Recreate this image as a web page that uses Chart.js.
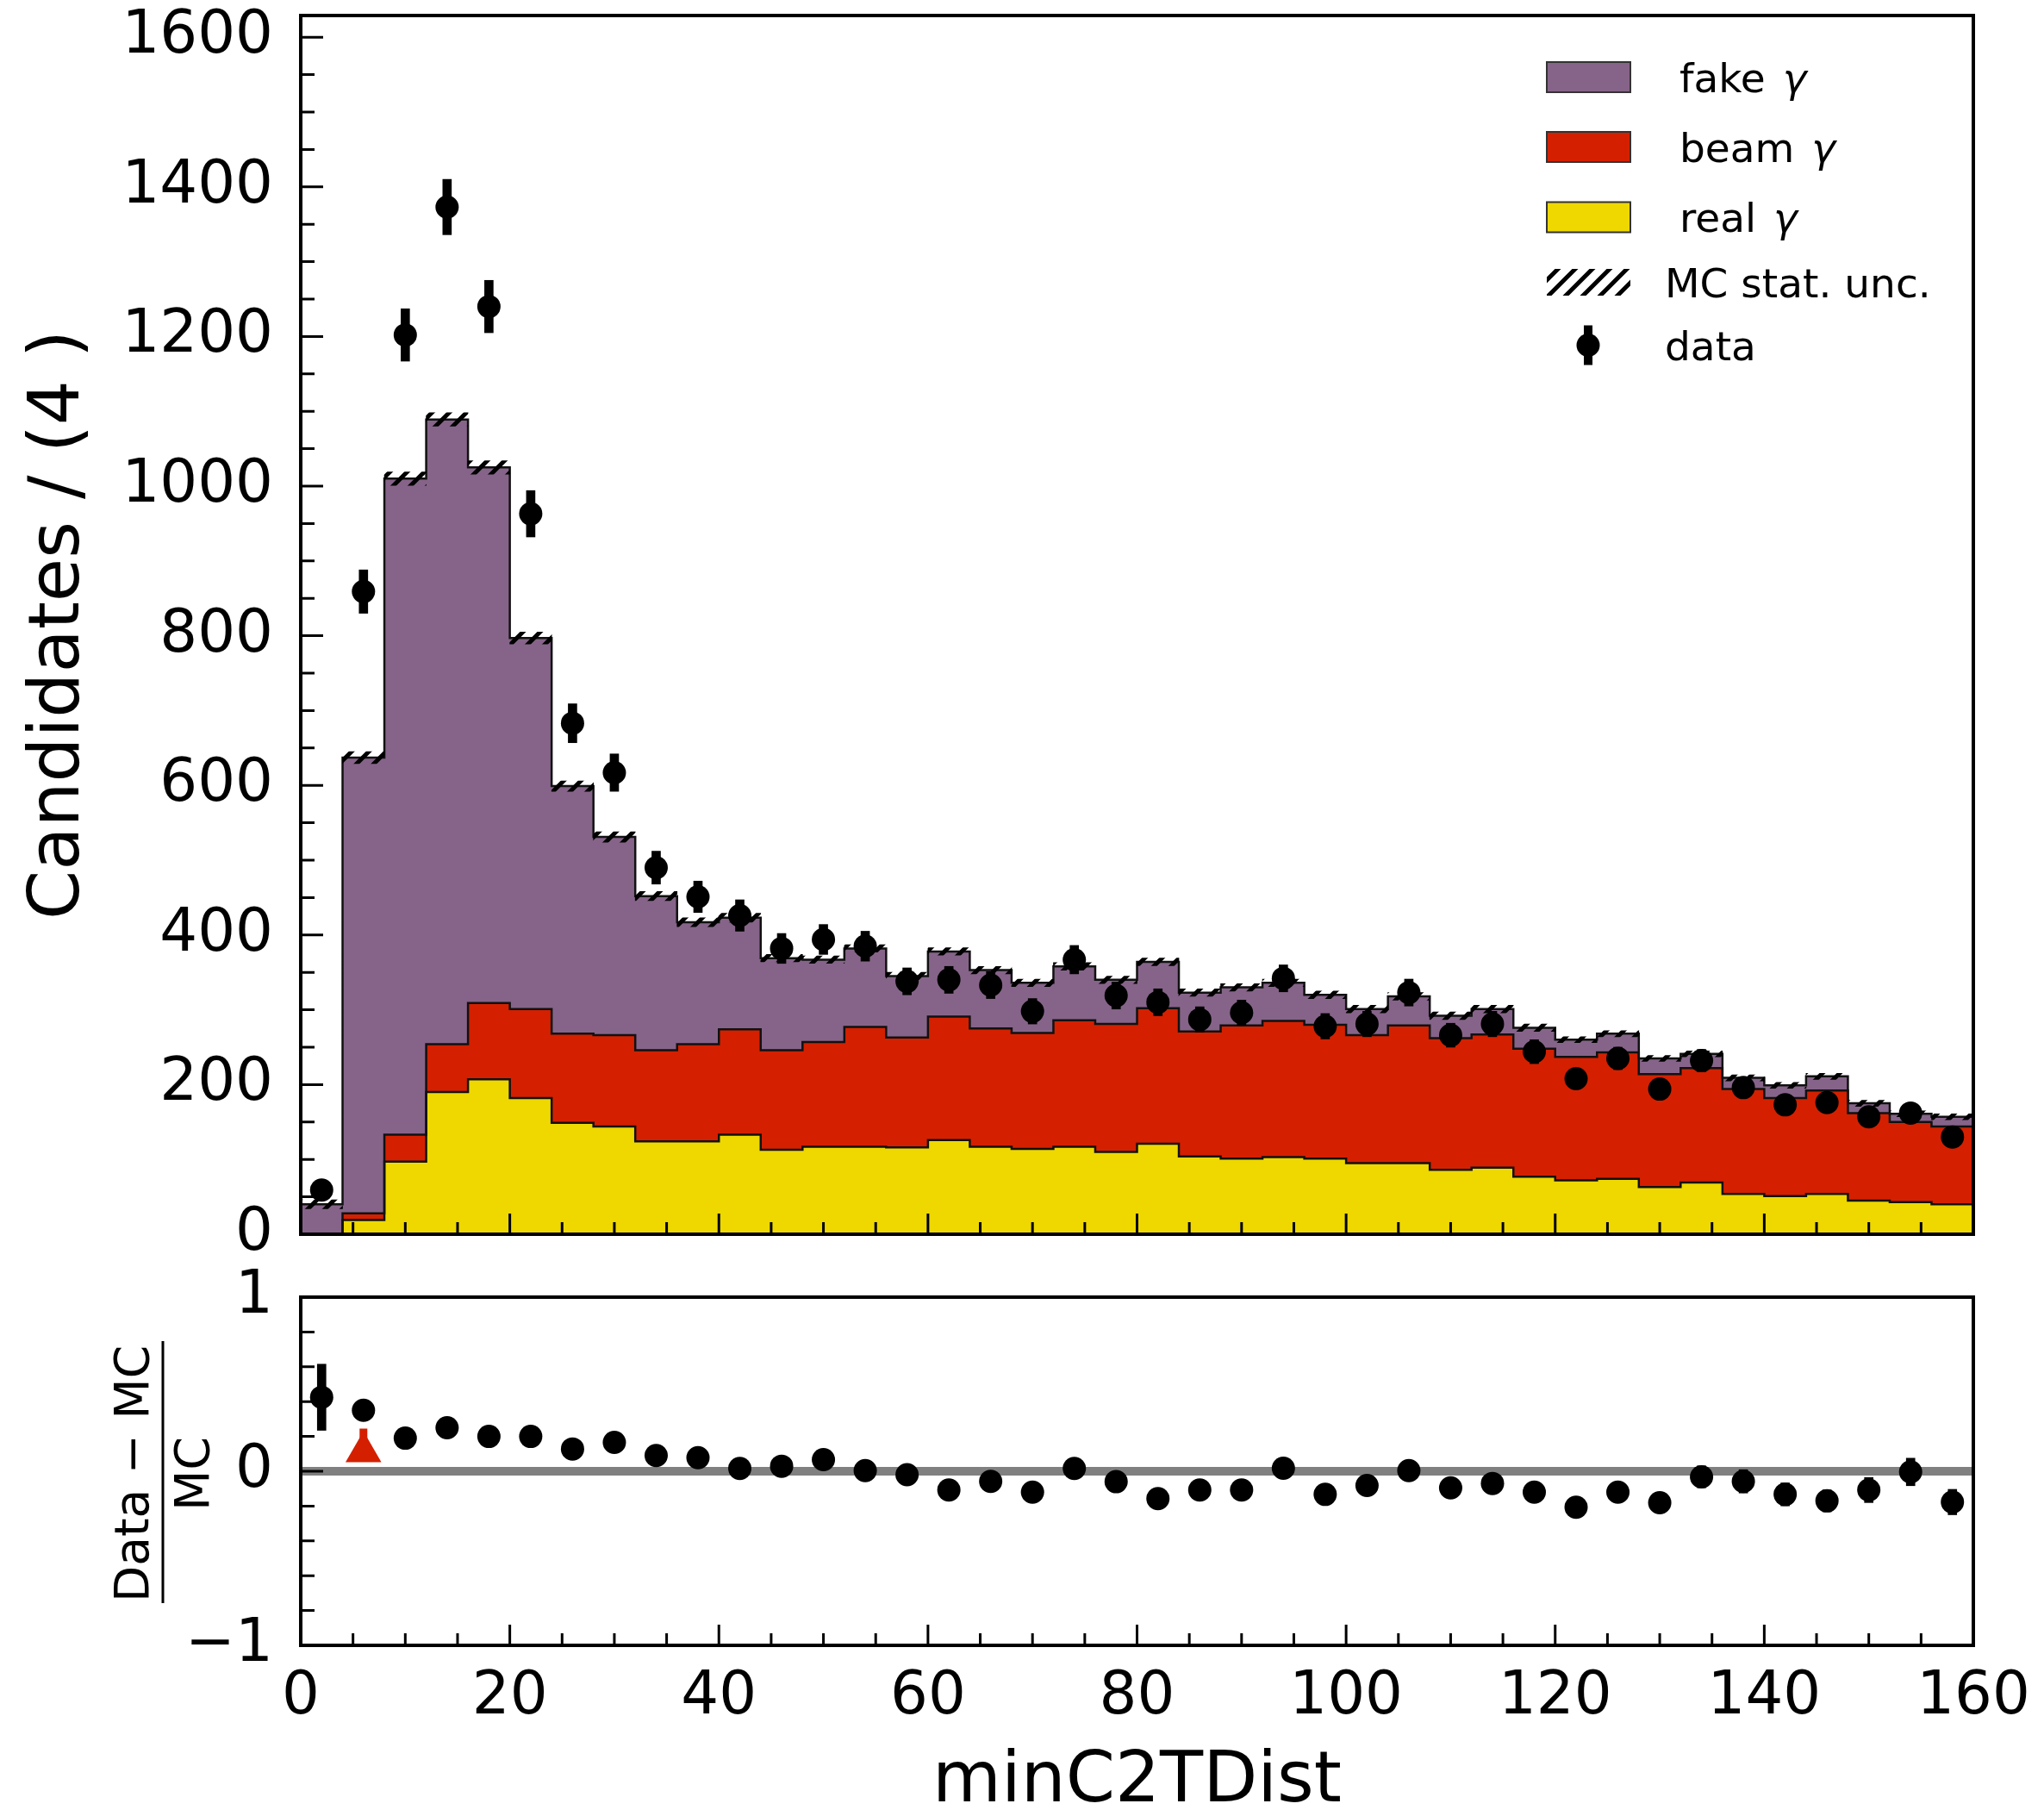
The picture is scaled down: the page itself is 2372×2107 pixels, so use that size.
<!DOCTYPE html>
<html>
<head>
<meta charset="utf-8">
<script src="https://cdn.jsdelivr.net/npm/chart.js@4.4.1/dist/chart.umd.min.js"></script>
<style>
  html, body { margin: 0; padding: 0; background: #fff; }
  #wrap { position: relative; width: 2372px; height: 2107px; }
  canvas { position: absolute; left: 0; top: 0; }
</style>
</head>
<body>
<div id="wrap">
  <canvas id="main" width="2372" height="2107"></canvas>
  <canvas id="ratio" width="2372" height="2107"></canvas>
</div>
<script>
// bins of minC2TDist, width 4
const binEdges = [0, 4, 8, 12, 16, 20, 24, 28, 32, 36, 40, 44, 48, 52, 56, 60, 64, 68, 72, 76, 80,
  84, 88, 92, 96, 100, 104, 108, 112, 116, 120, 124, 128, 132, 136, 140, 144, 148, 152, 156, 160];

// MC components (stacked: real at the bottom, then beam, then fake)
const realGamma = [0, 19, 97, 190, 207, 182, 149, 144, 124, 124, 133, 113, 117, 117, 116, 126, 117, 114, 117, 110,
  121, 104, 101, 103, 101, 95, 95, 86, 89, 77, 72, 74, 63, 69, 54, 51, 54, 45, 43, 40];
const beamGamma = [0, 9, 36, 64, 102, 119, 119, 122, 122, 130, 141, 133, 140, 160, 147, 165, 158, 155, 169, 171,
  181, 167, 178, 182, 179, 171, 184, 176, 178, 171, 165, 169, 151, 153, 140, 131, 138, 117, 107, 104];
const fakeGamma = [40, 609, 877, 835, 716, 496, 331, 265, 206, 163, 149, 123, 110, 105, 82, 87, 78, 67, 72, 59,
  62, 52, 51, 51, 40, 35, 39, 30, 34, 28, 23, 25, 21, 19, 15, 17, 19, 13, 11, 13];
const mcStatUnc = [6, 8, 9, 9, 9, 8, 7, 7, 6, 6, 6, 5, 5, 5, 5, 5, 5, 5, 5, 5,
  5, 5, 5, 5, 5, 5, 5, 5, 5, 5, 4, 4, 4, 4, 4, 4, 4, 4, 4, 4];

// data
const dataCounts = [59, 859, 1202, 1373, 1240, 963, 683, 617, 490, 451, 426, 382, 394, 385, 338, 340, 333, 298, 367, 319,
  310, 287, 296, 342, 278, 281, 323, 266, 281, 244, 208, 235, 194, 232, 196, 173, 176, 157, 162, 130];
const dataErr = [7.7, 29, 35, 37, 35, 31, 26, 25, 22, 21, 21, 20, 20, 20, 18, 18, 18, 17, 19, 18,
  18, 17, 17, 18, 17, 17, 18, 16, 17, 16, 14, 15, 14, 15, 14, 13, 13, 13, 13, 11];

// (Data - MC) / MC
const ratioValues = [0.425, 0.35, 0.19, 0.25, 0.20, 0.20, 0.128, 0.166, 0.09, 0.078, 0.016, 0.029, 0.067, 0.004, -0.02,
  -0.108, -0.058, -0.12, 0.016, -0.06, -0.157, -0.108, -0.108, 0.017, -0.133, -0.082, 0.004, -0.095, -0.07, -0.12,
  -0.207, -0.12, -0.181, -0.032, -0.058, -0.133, -0.17, -0.108, -0.004, -0.177];
const ratioErr = [0.19, 0.046, 0.034, 0.034, 0.034, 0.039, 0.044, 0.047, 0.049, 0.051, 0.049, 0.053, 0.054, 0.051, 0.053,
  0.049, 0.052, 0.051, 0.054, 0.053, 0.048, 0.052, 0.052, 0.055, 0.052, 0.056, 0.057, 0.056, 0.056, 0.057,
  0.055, 0.057, 0.059, 0.063, 0.067, 0.066, 0.063, 0.072, 0.079, 0.073];
// red marker in the ratio panel
const markerX = [6];
const markerY = [0.112];
const markerTop = [0.245];

const xTicks = [0, 20, 40, 60, 80, 100, 120, 140, 160];
const mainYTicks = [0, 200, 400, 600, 800, 1000, 1200, 1400, 1600];
const ratioYTicks = [-1, 0, 1];
const legendLabels = ['fake γ', 'beam γ', 'real γ', 'MC stat. unc.', 'data'];

const colors = {fake: '#866489', beam: '#d42000', real: '#eed800', edge: '#111111', zero: '#808080'};

Chart.defaults.font.family = '"DejaVu Sans"';
Chart.defaults.color = '#000';

const centers = binEdges.slice(0, -1).map((e, i) => (e + binEdges[i + 1]) / 2);
const cumReal = realGamma.slice();
const cumBeam = realGamma.map((v, i) => v + beamGamma[i]);
const cumTotal = cumBeam.map((v, i) => v + fakeGamma[i]);
const stepPoints = arr => binEdges.map((e, i) => ({x: e, y: arr[Math.min(i, arr.length - 1)]}));

function makeHatch(ctx) {
  const s = 20;
  const c = document.createElement('canvas');
  c.width = s; c.height = s;
  const g = c.getContext('2d');
  g.strokeStyle = '#000';
  g.lineWidth = 5;
  g.beginPath();
  g.moveTo(-s / 2, s / 2); g.lineTo(s / 2, -s / 2);
  g.moveTo(0, s); g.lineTo(s, 0);
  g.moveTo(s / 2, s * 1.5); g.lineTo(s * 1.5, s / 2);
  g.stroke();
  return ctx.createPattern(c, 'repeat');
}

const mainCanvas = document.getElementById('main');
const hatch = makeHatch(mainCanvas.getContext('2d'));

// inward ticks and frame, matplotlib style
function frameTicks(yMinorCount, yMajor, yMinor) {
  return {
    id: 'frameTicks',
    afterDraw(chart) {
      const {ctx, chartArea: a} = chart;
      const x = chart.scales.x, y = chart.scales.y;
      ctx.save();
      ctx.strokeStyle = '#000';
      ctx.lineWidth = 3;
      ctx.beginPath();
      for (let k = 0; k <= 32; k++) {
        const v = k * 5;
        const px = x.getPixelForValue(v);
        const len = k % 4 === 0 ? 24 : 14;
        ctx.moveTo(px, a.bottom); ctx.lineTo(px, a.bottom - len);
      }
      for (let k = 0; k <= yMinorCount; k++) {
        const v = y.min + k * yMinor;
        if (v > y.max + 1e-9) break;
        const py = y.getPixelForValue(v);
        const r = v / yMajor;
        const major = Math.abs(r - Math.round(r)) < 1e-6;
        ctx.moveTo(a.left, py); ctx.lineTo(a.left + (major ? 26 : 16), py);
      }
      ctx.stroke();
      ctx.lineWidth = 4;
      ctx.strokeRect(a.left, a.top, a.right - a.left, a.bottom - a.top);
      ctx.restore();
    }
  };
}

const legendPlugin = {
  id: 'stackLegend',
  afterDraw(chart) {
    const ctx = chart.ctx;
    ctx.save();
    const bx = 1795, bw = 97, bh = 35;
    const patches = [colors.fake, colors.beam, colors.real];
    const rowY = [89.5, 170.5, 252, 327.5, 400.5];
    const font = '47px "DejaVu Sans"';
    const ifont = 'italic 47px "DejaVu Sans"';
    ctx.fillStyle = '#000';
    ctx.textBaseline = 'alphabetic';
    const drawLabel = (txt, x, cy) => {
      const base = cy + 17;
      const parts = txt.split('γ');
      ctx.font = font;
      ctx.fillText(parts[0], x, base);
      if (parts.length > 1) {
        const w = ctx.measureText(parts[0]).width;
        ctx.font = ifont;
        ctx.fillText('γ', x + w + 5, base);
      }
    };
    patches.forEach((col, i) => {
      ctx.fillStyle = col;
      ctx.fillRect(bx, rowY[i] - bh / 2, bw, bh);
      ctx.lineWidth = 2;
      ctx.strokeStyle = '#333';
      ctx.strokeRect(bx, rowY[i] - bh / 2, bw, bh);
      ctx.fillStyle = '#000';
      drawLabel(' ' + legendLabels[i], 1934, rowY[i]);
    });
    // hatch
    ctx.save();
    ctx.beginPath();
    ctx.rect(bx, rowY[3] - 15.5, bw, 31);
    ctx.clip();
    ctx.fillStyle = hatch;
    ctx.fillRect(bx, rowY[3] - 15.5, bw, 31);
    ctx.restore();
    ctx.fillStyle = '#000';
    drawLabel(legendLabels[3], 1932, rowY[3]);
    // data marker
    ctx.fillRect(1838, rowY[4] - 23, 10, 46);
    ctx.beginPath();
    ctx.arc(1843, rowY[4], 13.5, 0, Math.PI * 2);
    ctx.fill();
    drawLabel(legendLabels[4], 1932, rowY[4]);
    ctx.restore();
  }
};

const ratioLabel = {
  id: 'ratioLabel',
  afterDraw(chart) {
    const ctx = chart.ctx;
    const cy = 1710;
    ctx.save();
    ctx.fillStyle = '#000';
    ctx.font = '55px "DejaVu Sans"';
    ctx.textAlign = 'center';
    ctx.textBaseline = 'alphabetic';
    ctx.save(); ctx.translate(172, cy); ctx.rotate(-Math.PI / 2); ctx.fillText('Data \u2212 MC', 0, 0); ctx.restore();
    ctx.save(); ctx.translate(242, cy); ctx.rotate(-Math.PI / 2); ctx.fillText('MC', 0, 0); ctx.restore();
    ctx.fillRect(187.5, 1556, 3, 304);
    ctx.restore();
  }
};

const histLine = (arr, col, fill, order) => ({
  type: 'line',
  data: stepPoints(arr),
  stepped: 'before',
  borderColor: colors.edge,
  borderWidth: 2.5,
  backgroundColor: col,
  fill: fill,
  pointRadius: 0,
  order: order
});

const plainNumber = v => (v < 0 ? '\u2212' + Math.abs(v) : String(v));

new Chart(mainCanvas, {
  type: 'line',
  data: {
    datasets: [
      histLine(cumReal, colors.real, 'origin', 5),
      histLine(cumBeam, colors.beam, '-1', 4),
      histLine(cumTotal, colors.fake, '-1', 3),
      {
        type: 'bar',
        data: centers.map((c, i) => ({x: c, y: [cumTotal[i] - mcStatUnc[i], cumTotal[i] + mcStatUnc[i]]})),
        backgroundColor: hatch,
        borderWidth: 0,
        grouped: false,
        barPercentage: 1,
        categoryPercentage: 1,
        order: 2
      },
      {
        type: 'bar',
        data: centers.map((c, i) => ({x: c, y: [dataCounts[i] - dataErr[i], dataCounts[i] + dataErr[i]]})),
        backgroundColor: '#000',
        borderWidth: 0,
        grouped: false,
        barPercentage: 1,
        categoryPercentage: 1,
        maxBarThickness: 10,
        order: 1
      },
      {
        type: 'line',
        data: centers.map((c, i) => ({x: c, y: dataCounts[i]})),
        showLine: false,
        pointRadius: 13.5,
        pointBackgroundColor: '#000',
        pointBorderWidth: 0,
        order: 0
      }
    ]
  },
  options: {
    responsive: false,
    devicePixelRatio: 1,
    animation: false,
    events: [],
    layout: {padding: {left: 0, top: 18, right: 82, bottom: 675}, autoPadding: false},
    plugins: {legend: {display: false}, tooltip: {enabled: false}, filler: {drawTime: 'beforeDatasetsDraw'}},
    scales: {
      x: {type: 'linear', min: 0, max: 160, offset: false, display: false, ticks: {stepSize: 20}},
      y: {
        type: 'linear', min: 0, max: 1629,
        grid: {display: false}, border: {display: false},
        afterBuildTicks: s => { s.ticks = mainYTicks.map(v => ({value: v})); },
        afterFit: s => { s.width = 349; s.paddingTop = 0; s.paddingBottom = 0; },
        ticks: {font: {size: 69}, padding: 24, autoSkip: false, callback: plainNumber},
        title: {display: true, text: 'Candidates / (4 )', font: {size: 82}, padding: {top: 21, bottom: 0}}
      }
    }
  },
  plugins: [frameTicks(40, 200, 50), legendPlugin]
});

new Chart(document.getElementById('ratio'), {
  type: 'line',
  data: {
    datasets: [
      {
        type: 'line',
        data: [{x: 0, y: 0}, {x: 160, y: 0}],
        borderColor: colors.zero,
        borderWidth: 10,
        pointRadius: 0,
        order: 4
      },
      {
        type: 'bar',
        data: markerX.map((c, i) => ({x: c, y: [markerY[i], markerTop[i]]})),
        backgroundColor: colors.beam,
        borderWidth: 0,
        grouped: false,
        maxBarThickness: 9,
        order: 3
      },
      {
        type: 'line',
        data: markerX.map((c, i) => ({x: c, y: markerY[i]})),
        showLine: false,
        pointStyle: 'triangle',
        pointRadius: 24,
        pointBackgroundColor: colors.beam,
        pointBorderWidth: 0,
        order: 2
      },
      {
        type: 'bar',
        data: centers.map((c, i) => ({x: c, y: [ratioValues[i] - ratioErr[i], ratioValues[i] + ratioErr[i]]})),
        backgroundColor: '#000',
        borderWidth: 0,
        grouped: false,
        barPercentage: 1,
        categoryPercentage: 1,
        maxBarThickness: 10,
        order: 1
      },
      {
        type: 'line',
        data: centers.map((c, i) => ({x: c, y: ratioValues[i]})),
        showLine: false,
        pointRadius: 13.5,
        pointBackgroundColor: '#000',
        pointBorderWidth: 0,
        order: 0
      }
    ]
  },
  options: {
    responsive: false,
    devicePixelRatio: 1,
    animation: false,
    events: [],
    layout: {padding: {left: 0, top: 1505, right: 82, bottom: 0}, autoPadding: false},
    plugins: {legend: {display: false}, tooltip: {enabled: false}},
    scales: {
      x: {
        type: 'linear', min: 0, max: 160, offset: false,
        grid: {display: false}, border: {display: false},
        afterBuildTicks: s => { s.ticks = xTicks.map(v => ({value: v})); },
        afterFit: s => { s.height = 198; s.paddingLeft = 0; s.paddingRight = 0; },
        ticks: {font: {size: 69}, padding: 12, maxRotation: 0, autoSkip: false, callback: plainNumber},
        title: {display: true, text: 'minC2TDist', font: {size: 82}, padding: {top: 0, bottom: -11}}
      },
      y: {
        type: 'linear', min: -1, max: 1,
        grid: {display: false}, border: {display: false},
        afterBuildTicks: s => { s.ticks = ratioYTicks.map(v => ({value: v})); },
        afterFit: s => { s.width = 349; s.paddingTop = 0; s.paddingBottom = 0; },
        ticks: {font: {size: 69}, padding: 24, autoSkip: false, callback: plainNumber}
      }
    }
  },
  plugins: [frameTicks(10, 1, 0.2), ratioLabel]
});
</script>
</body>
</html>
